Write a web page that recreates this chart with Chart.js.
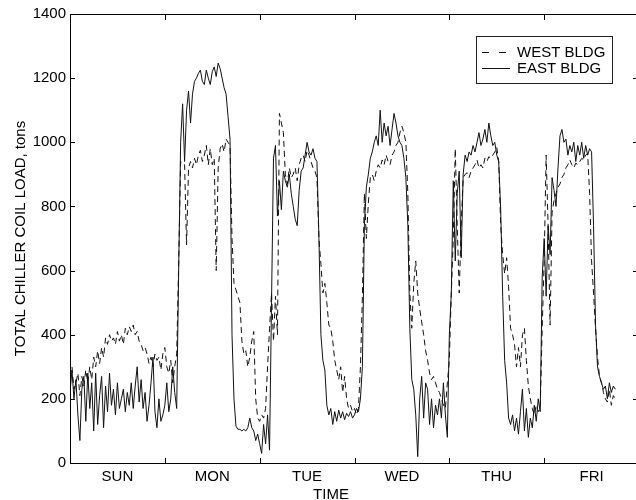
<!DOCTYPE html>
<html>
<head>
<meta charset="utf-8">
<script src="https://cdn.jsdelivr.net/npm/chart.js@4.4.1/dist/chart.umd.min.js"></script>
<style>
  html, body { margin: 0; padding: 0; background: #fff; overflow: hidden; }
  #wrap { width: 646px; height: 500px; }
</style>
</head>
<body>
<div id="wrap"><canvas id="coilChart"></canvas></div>
<script>
// day labels, one per 24 h block
const DAYS = ['SUN', 'MON', 'TUE', 'WED', 'THU', 'FRI'];
const STEP_HOURS = 0.5; // samples every half hour, starting Sunday 00:00
const Y_TICKS = [0, 200, 400, 600, 800, 1000, 1200, 1400];

// WEST BLDG, tons (dashed)
const WEST_BLDG = [
  270,300,230,250,280,210,270,240,290,250,300,260,330,300,350,310,360,330,390,370,400,380,390,370,
  410,380,400,370,420,400,425,410,430,400,410,380,370,350,360,340,310,330,300,340,320,330,290,340,
  360,300,280,320,250,300,340,620,940,930,930,680,920,940,920,950,930,960,975,940,960,990,930,980,
  930,950,600,920,980,995,970,1010,1000,990,700,560,540,520,500,380,340,350,300,330,380,410,200,140,
  130,150,140,170,300,420,530,380,520,400,1090,1060,1030,900,870,920,890,900,920,880,930,950,960,940,
  975,960,940,920,910,890,700,620,530,560,500,430,420,380,320,290,260,300,220,270,200,170,180,160,
  170,150,170,300,520,840,700,810,890,900,880,910,930,920,945,930,960,940,930,960,970,990,1000,1030,
  1050,1030,1000,840,530,420,560,630,530,480,440,400,350,320,280,260,270,250,230,220,200,180,170,250,
  320,530,700,980,740,530,740,890,900,905,890,910,920,930,945,920,930,920,950,940,955,950,960,970,
  985,940,740,650,590,640,550,420,400,370,300,360,300,400,420,320,240,200,170,150,180,160,170,420,
  630,960,740,430,780,820,840,860,870,890,900,920,930,945,930,920,935,930,940,950,945,960,965,840,
  630,530,420,330,270,250,220,200,190,230,180,210,200
];

// EAST BLDG, tons (solid)
const EAST_BLDG = [
  220,290,200,260,150,70,230,270,130,280,170,250,100,280,120,210,270,110,240,160,280,180,230,150,
  250,170,200,230,160,220,180,250,170,240,300,190,260,170,220,130,180,250,330,160,110,200,130,150,
  180,250,160,200,300,220,170,600,1000,1120,940,1100,1160,1060,1150,1190,1200,1215,1225,1190,1180,1225,1200,1180,
  1220,1235,1205,1247,1230,1200,1170,1150,1080,1010,400,200,115,105,105,100,105,100,110,140,110,100,70,90,
  60,30,120,60,150,40,500,950,990,770,880,790,910,880,860,900,840,800,760,740,850,910,920,960,
  1000,970,960,980,950,940,700,400,320,290,180,150,170,120,160,130,165,140,160,135,155,145,160,140,
  150,170,160,200,300,740,860,900,950,970,1000,1020,990,1100,1000,1060,1020,1050,990,1040,1090,1060,1020,1000,
  990,950,890,740,420,260,230,150,20,200,270,140,250,230,120,200,110,180,150,200,140,250,150,80,
  400,530,880,630,840,910,640,900,960,940,970,960,990,970,1000,1030,990,1010,1040,1000,1060,1020,990,1000,
  960,940,790,520,320,250,140,120,150,100,140,90,160,230,100,170,80,140,110,180,130,200,160,580,
  700,520,740,650,890,850,800,920,1020,1040,1000,1010,960,990,970,1000,940,990,960,1000,950,990,960,980,
  970,740,430,300,270,250,230,240,200,250,220,240,230
];

const FONT = { family: '"Liberation Sans", Arial, Helvetica, sans-serif', size: 15 };
const toPoints = (vals) => vals.map((v, i) => ({ x: i * STEP_HOURS, y: v }));

// box with inward ticks on all four sides, matlab style
const framePlugin = {
  id: 'frame',
  afterDatasetsDraw(chart) {
    const { ctx, chartArea: a, scales: { x, y } } = chart;
    ctx.save();
    ctx.strokeStyle = '#000';
    ctx.lineWidth = 1;
    ctx.strokeRect(a.left + 0.5, a.top + 0.5, a.right - a.left, a.bottom - a.top);
    ctx.beginPath();
    for (let d = 1; d < DAYS.length; d++) {
      const px = Math.round(x.getPixelForValue(d * 24)) + 0.5;
      ctx.moveTo(px, a.bottom); ctx.lineTo(px, a.bottom - 5);
      ctx.moveTo(px, a.top); ctx.lineTo(px, a.top + 6);
    }
    Y_TICKS.forEach(t => {
      const py = Math.round(y.getPixelForValue(t)) + 0.5;
      ctx.moveTo(a.left, py); ctx.lineTo(a.left + 5, py);
      ctx.moveTo(a.right, py); ctx.lineTo(a.right - 6, py);
    });
    ctx.stroke();

    // x axis title sits a little left of the axes centre in the original
    ctx.fillStyle = '#000';
    ctx.font = `${FONT.size}px ${FONT.family}`;
    ctx.textAlign = 'center';
    ctx.textBaseline = 'alphabetic';
    ctx.fillText('TIME', 331, 499);
    ctx.restore();
  }
};

// legend box inside the plot, top right
const boxLegend = {
  id: 'boxLegend',
  afterDraw(chart) {
    const { ctx } = chart;
    const left = 476.5, top = 36.5, w = 136, h = 47;
    ctx.save();
    ctx.fillStyle = '#fff';
    ctx.fillRect(left, top, w, h);
    ctx.strokeStyle = '#222';
    ctx.lineWidth = 1;
    ctx.strokeRect(left, top, w, h);
    ctx.font = `${FONT.size}px ${FONT.family}`;
    ctx.textBaseline = 'middle';
    ctx.textAlign = 'left';
    chart.data.datasets.forEach((ds, i) => {
      const cy = 52.5 + i * 16;
      ctx.beginPath();
      ctx.setLineDash(ds.borderDash ? [7, 10] : []);
      ctx.strokeStyle = ds.borderColor;
      ctx.moveTo(482, cy);
      ctx.lineTo(ds.borderDash ? 507 : 510, cy);
      ctx.stroke();
      ctx.setLineDash([]);
      ctx.fillStyle = '#000';
      ctx.fillText(ds.label, 517, cy);
    });
    ctx.restore();
  }
};

new Chart(document.getElementById('coilChart'), {
  type: 'line',
  data: {
    datasets: [
      {
        label: 'WEST BLDG',
        data: toPoints(WEST_BLDG),
        borderColor: '#111',
        borderWidth: 1,
        borderDash: [6, 4],
        pointRadius: 0,
        tension: 0
      },
      {
        label: 'EAST BLDG',
        data: toPoints(EAST_BLDG),
        borderColor: '#111',
        borderWidth: 1,
        pointRadius: 0,
        tension: 0
      }
    ]
  },
  options: {
    responsive: true,
    maintainAspectRatio: false,
    animation: false,
    layout: { padding: { left: 0, right: 7, top: 14, bottom: 0 } },
    plugins: { legend: { display: false }, tooltip: { enabled: false } },
    scales: {
      x: {
        type: 'linear',
        min: 0,
        max: 144,
        grid: { display: false, drawTicks: false },
        border: { display: false },
        afterBuildTicks: (s) => { s.ticks = DAYS.map((d, i) => ({ value: i * 24 + 12 })); },
        ticks: {
          callback: (v, i) => DAYS[i],
          font: FONT,
          color: '#000',
          padding: 5,
          maxRotation: 0,
          autoSkip: false
        },
        afterFit: (s) => { s.height = 37; }
      },
      y: {
        min: 0,
        max: 1400,
        grid: { display: false, drawTicks: false },
        border: { display: false },
        ticks: {
          stepSize: 200,
          font: FONT,
          color: '#000',
          padding: 4,
          callback: (v) => String(v)
        },
        title: {
          display: true,
          text: 'TOTAL CHILLER COIL LOAD, tons',
          font: FONT,
          color: '#000',
          padding: { top: 12, bottom: 0 }
        },
        afterFit: (s) => { s.width = 70; }
      }
    }
  },
  plugins: [framePlugin, boxLegend]
});
</script>
</body>
</html>
